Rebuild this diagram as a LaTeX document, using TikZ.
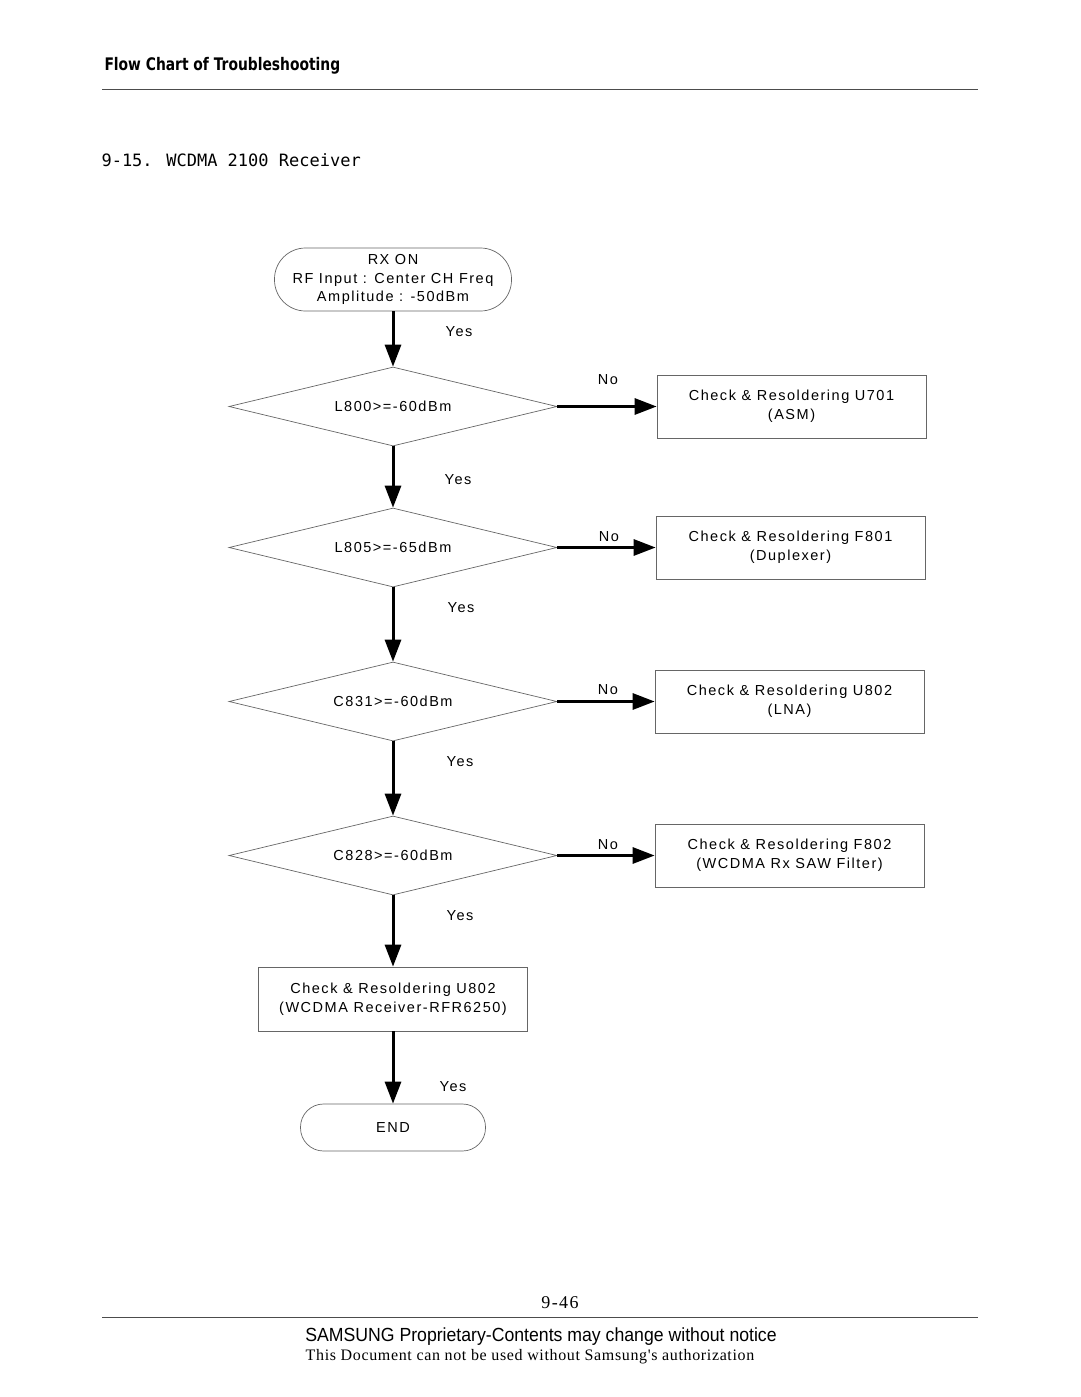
\documentclass[tikz,border=0pt]{standalone}
\usepackage{fontspec}
\setmainfont{Liberation Sans}
\newfontfamily\chartfont[LetterSpace=10.5]{Liberation Sans}
\newfontfamily\headfont[FakeStretch=0.8]{DejaVu Sans Bold}
\newfontfamily\titlefont{DejaVu Sans Mono}
\newfontfamily\narrowfont[FakeStretch=0.93]{Liberation Sans}
\newfontfamily\noticefont[LetterSpace=4]{Liberation Serif}
\newfontfamily\pagefont[LetterSpace=8]{Liberation Serif}
\usepackage{tikz}
\usetikzlibrary{shapes.geometric}
\usetikzlibrary{arrows.meta}
\usetikzlibrary{positioning}

\begin{document}
\begin{tikzpicture}[x=1pt,y=-1pt,
  decision/.style={draw=black!60, line width=0.7pt, shape=diamond, aspect=4,
    minimum width=328pt, minimum height=79pt, inner sep=0pt,
    font=\chartfont\fontsize{14.5}{19}\selectfont},
  fixbox/.style={draw=black!60, line width=0.7pt, minimum width=269pt,
    minimum height=63pt, inner sep=0pt, align=center,
    font=\chartfont\fontsize{14.5}{19}\selectfont},
  term/.style={draw=black!60, line width=0.7pt, align=center, inner sep=0pt,
    font=\chartfont\fontsize{14.5}{18.5}\selectfont},
  flow/.style={line width=3pt, -{Triangle[length=22pt,width=16pt]}},
  lbl/.style={font=\chartfont\fontsize{14.5}{16}\selectfont}]
% page size
\useasboundingbox (0,0) rectangle (1080,1397);
% Header
\node[anchor=west, font=\headfont\fontsize{17.3}{19}\selectfont] (head) at (101,66) {Flow Chart of Troubleshooting};
\draw[black!70, line width=1pt] (102,89) -- (978,89);
\node[anchor=west, font=\titlefont\fontsize{17}{20}\selectfont] (title) at (98,160) {9-15. WCDMA 2100 Receiver};
% Start
\node[term, rounded corners=31pt, minimum width=237pt, minimum height=63pt] (start) at (393,279.5)
  {RX ON\\RF Input : Center CH Freq\\Amplitude : -50dBm};
% Decisions
\node[decision] (d1) at (393,406.5) {L800>=-60dBm};
\node[decision] (d2) at (393,547.5) {L805>=-65dBm};
\node[decision] (d3) at (393,701.5) {C831>=-60dBm};
\node[decision] (d4) at (393,855.5) {C828>=-60dBm};
% Repair boxes
\node[fixbox] (f1) at (791.5,406.5) {Check \& Resoldering U701\\(ASM)};
\node[fixbox] (f2) at (790.5,547.5) {Check \& Resoldering F801\\(Duplexer)};
\node[fixbox] (f3) at (789.5,701.5) {Check \& Resoldering U802\\(LNA)};
\node[fixbox] (f4) at (789.5,855.5) {Check \& Resoldering F802\\(WCDMA Rx SAW Filter)};
\node[fixbox, minimum height=64pt] (f5) at (393,999) {Check \& Resoldering U802\\(WCDMA Receiver-RFR6250)};
% End
\node[term, rounded corners=23pt, minimum width=185pt, minimum height=47pt] (stop) at (393,1127.5) {END};
% Yes path
\draw[flow] (start) -- (d1);
\draw[flow] (d1) -- (d2);
\draw[flow] (d2) -- (d3);
\draw[flow] (d3) -- (d4);
\draw[flow] (d4) -- (f5);
\draw[flow] (f5) -- (stop);
% No path
\draw[flow] (d1) -- (f1);
\draw[flow] (d2) -- (f2);
\draw[flow] (d3) -- (f3);
\draw[flow] (d4) -- (f4);
% Yes / No labels
\node[lbl] (y1) at (459,332) {Yes};
\node[lbl] (y2) at (458,480) {Yes};
\node[lbl] (y3) at (461,608) {Yes};
\node[lbl] (y4) at (460,762) {Yes};
\node[lbl] (y5) at (460,916) {Yes};
\node[lbl] (y6) at (453,1087) {Yes};
\node[lbl] (n1) at (608,380) {No};
\node[lbl] (n2) at (609,537) {No};
\node[lbl] (n3) at (608,690) {No};
\node[lbl] (n4) at (608,845) {No};
% Footer
\node[font=\pagefont\fontsize{18}{20}\selectfont] (page) at (560,1303) {9-46};
\draw[black!70, line width=1pt] (102,1317) -- (978,1317);
\node[font=\narrowfont\fontsize{19}{21}\selectfont] (prop) at (541,1337) {SAMSUNG Proprietary-Contents may change without notice};
\node[font=\noticefont\fontsize{16}{18}\selectfont] (auth) at (530,1357) {This Document can not be used without Samsung's authorization};
\end{tikzpicture}
\end{document}
